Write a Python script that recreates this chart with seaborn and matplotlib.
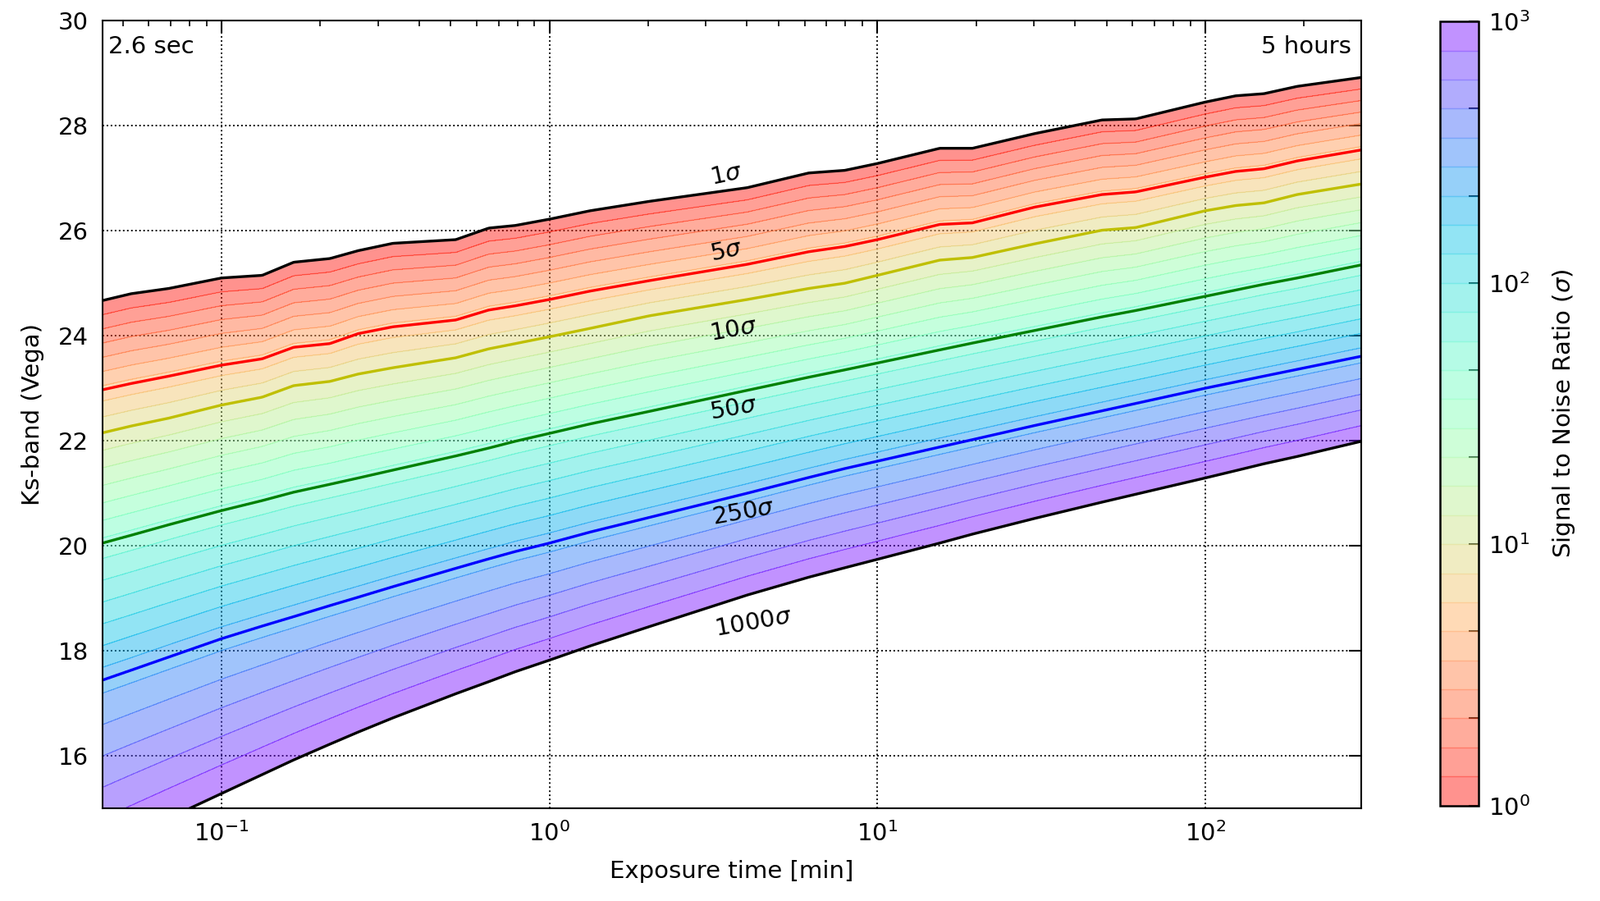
import numpy as np
import matplotlib
matplotlib.use("Agg")
import matplotlib.pyplot as plt
import seaborn as sns

# ---------------- data ----------------
exposure_min = [0.0433, 0.053, 0.069, 0.1, 0.133, 0.166, 0.214, 0.261, 0.333,
                0.518, 0.653, 0.787, 1.0, 1.33, 2.02, 4.01, 6.18, 7.96, 10.0,
                15.5, 19.5, 30.2, 48.5, 61.4, 100.0, 124.0, 151.0, 191.0, 300.0]

snr_named = [1, 5, 10, 50, 250, 1000]

mag_1sigma = [24.67, 24.80, 24.90, 25.10, 25.15, 25.40, 25.47, 25.62, 25.76,
              25.83, 26.05, 26.10, 26.22, 26.38, 26.56, 26.82, 27.10, 27.15, 27.28,
              27.57, 27.57, 27.85, 28.11, 28.13, 28.45, 28.57, 28.61, 28.75, 28.92]
mag_5sigma = [22.97, 23.09, 23.23, 23.44, 23.56, 23.78, 23.85, 24.04, 24.17,
              24.30, 24.49, 24.57, 24.69, 24.85, 25.05, 25.36, 25.60, 25.70, 25.83,
              26.12, 26.15, 26.45, 26.69, 26.74, 27.02, 27.13, 27.18, 27.33, 27.54]
mag_10sigma = [22.15, 22.28, 22.43, 22.68, 22.83, 23.05, 23.13, 23.27, 23.39,
               23.58, 23.75, 23.85, 23.98, 24.14, 24.38, 24.69, 24.90, 25.00, 25.15,
               25.44, 25.49, 25.75, 26.01, 26.06, 26.38, 26.48, 26.53, 26.69, 26.89]
mag_50sigma = [20.05, 20.20, 20.40, 20.67, 20.86, 21.02, 21.17, 21.29, 21.44,
               21.71, 21.86, 21.99, 22.14, 22.32, 22.56, 22.96, 23.21, 23.35, 23.48,
               23.73, 23.86, 24.10, 24.36, 24.48, 24.75, 24.87, 24.98, 25.10, 25.35]
mag_250sigma = [17.44, 17.63, 17.88, 18.23, 18.47, 18.65, 18.86, 19.02, 19.22,
                19.57, 19.75, 19.89, 20.05, 20.26, 20.54, 21.00, 21.30, 21.47, 21.61,
                21.88, 22.02, 22.29, 22.57, 22.71, 23.00, 23.12, 23.23, 23.36, 23.61]
mag_1000sigma = [14.20, 14.47, 14.81, 15.28, 15.64, 15.92, 16.22, 16.45, 16.72,
                 17.18, 17.41, 17.60, 17.82, 18.09, 18.46, 19.06, 19.40, 19.58, 19.74,
                 20.05, 20.22, 20.52, 20.83, 20.98, 21.29, 21.43, 21.56, 21.70, 21.99]

curve_labels = [r"1$\sigma$", r"5$\sigma$", r"10$\sigma$", r"50$\sigma$",
                r"250$\sigma$", r"1000$\sigma$"]
curve_colors = [(0, 0, 0), (1, 0, 0), (0.75, 0.75, 0), (0, 0.5, 0),
                (0, 0, 1), (0, 0, 0)]

# ---------------- build SNR table from the curves ----------------
curves = np.array([mag_1sigma, mag_5sigma, mag_10sigma,
                   mag_50sigma, mag_250sigma, mag_1000sigma])
logt = np.log10(exposure_min)
logt_fine = np.linspace(logt[0], logt[-1], 700)
t_fine = 10 ** logt_fine
curves_fine = np.array([np.interp(logt_fine, logt, c) for c in curves])
log_snr_named = np.log10(snr_named)
mag_grid = np.linspace(13.0, 30.5, 900)

Z = np.empty((mag_grid.size, t_fine.size))
for j in range(t_fine.size):
    mx = curves_fine[:, j][::-1]
    ly = log_snr_named[::-1]
    z = np.interp(mag_grid, mx, ly)
    lo = mag_grid < mx[0]
    hi = mag_grid > mx[-1]
    s_lo = (ly[1] - ly[0]) / (mx[1] - mx[0])
    s_hi = (ly[-1] - ly[-2]) / (mx[-1] - mx[-2])
    z[lo] = ly[0] + s_lo * (mag_grid[lo] - mx[0])
    z[hi] = ly[-1] + s_hi * (mag_grid[hi] - mx[-1])
    Z[:, j] = z

# ---------------- style ----------------
sns.set_theme(style="white")
plt.rcParams.update({
    "font.family": ["DejaVu Sans"],
    "font.size": 14,
    "axes.edgecolor": "black",
    "axes.linewidth": 1.0,
    "xtick.color": "black",
    "ytick.color": "black",
    "axes.labelcolor": "black",
    "text.color": "black",
    "xtick.direction": "in",
    "ytick.direction": "in",
})

fig = plt.figure(figsize=(13, 7.32), dpi=150)
ax = fig.add_axes([0.064, 0.103, 0.787, 0.874])

cmap = sns.color_palette("rainbow_r", as_cmap=True)
levels = np.linspace(0, 3, 28)

cf = ax.contourf(t_fine, mag_grid, Z, levels=levels, cmap=cmap, alpha=0.45)
cs_thin = ax.contour(t_fine, mag_grid, Z, levels=levels, cmap=cmap,
                     alpha=0.35, linewidths=0.7)
ax.contour(t_fine, mag_grid, Z, levels=log_snr_named,
           colors=curve_colors, linewidths=1.6)

ax.set_xscale("log")
ax.set_xlim(exposure_min[0], exposure_min[-1])
ax.set_ylim(15, 30)
ax.set_yticks(np.arange(16, 31, 2))
ax.grid(True, which="major", color="black", linestyle=":", linewidth=0.9)
ax.tick_params(which="both", direction="in", top=True, right=True,
               labelsize=14, pad=8)
ax.tick_params(which="major", length=7, width=1)
ax.tick_params(which="minor", length=3.5, width=0.8)
ax.set_xlabel("Exposure time [min]", fontsize=14, labelpad=8)
ax.set_ylabel("Ks-band (Vega)", fontsize=14, labelpad=8)

ax.text(0.005, 0.982, "2.6 sec", transform=ax.transAxes, ha="left", va="top",
        fontsize=14)
ax.text(0.992, 0.982, "5 hours", transform=ax.transAxes, ha="right", va="top",
        fontsize=14)

# curve labels
label_times = [3.46, 3.46, 3.65, 3.65, 3.9, 4.2]
label_offsets = [0.30, 0.32, -0.53, -0.30, -0.34, -0.57]
label_rotations = [12, 12, 10, 10, 10, 10]
for c, lab, tl, off, rot in zip(curves, curve_labels, label_times,
                                label_offsets, label_rotations):
    m = np.interp(np.log10(tl), logt, c)
    ax.text(tl, m + off, lab, ha="center", va="center", rotation=rot,
            rotation_mode="anchor", fontsize=14)

# colorbar
cax = fig.add_axes([0.900, 0.106, 0.024, 0.870])
cb_ticks = np.linspace(0, 3, 10)
cb = fig.colorbar(cf, cax=cax, ticks=cb_ticks)
cb.add_lines(cs_thin)
cb.ax.set_yticklabels([r"$10^{%d}$" % round(v) if abs(v - round(v)) < 1e-6 else ""
                       for v in cb_ticks])
cb.ax.tick_params(direction="in", length=6, width=1, labelsize=14, pad=6)
cb.outline.set_linewidth(1.2)
cb.set_label(r"Signal to Noise Ratio ($\sigma$)", fontsize=14, labelpad=12)

fig.savefig("out.png", dpi=150)
